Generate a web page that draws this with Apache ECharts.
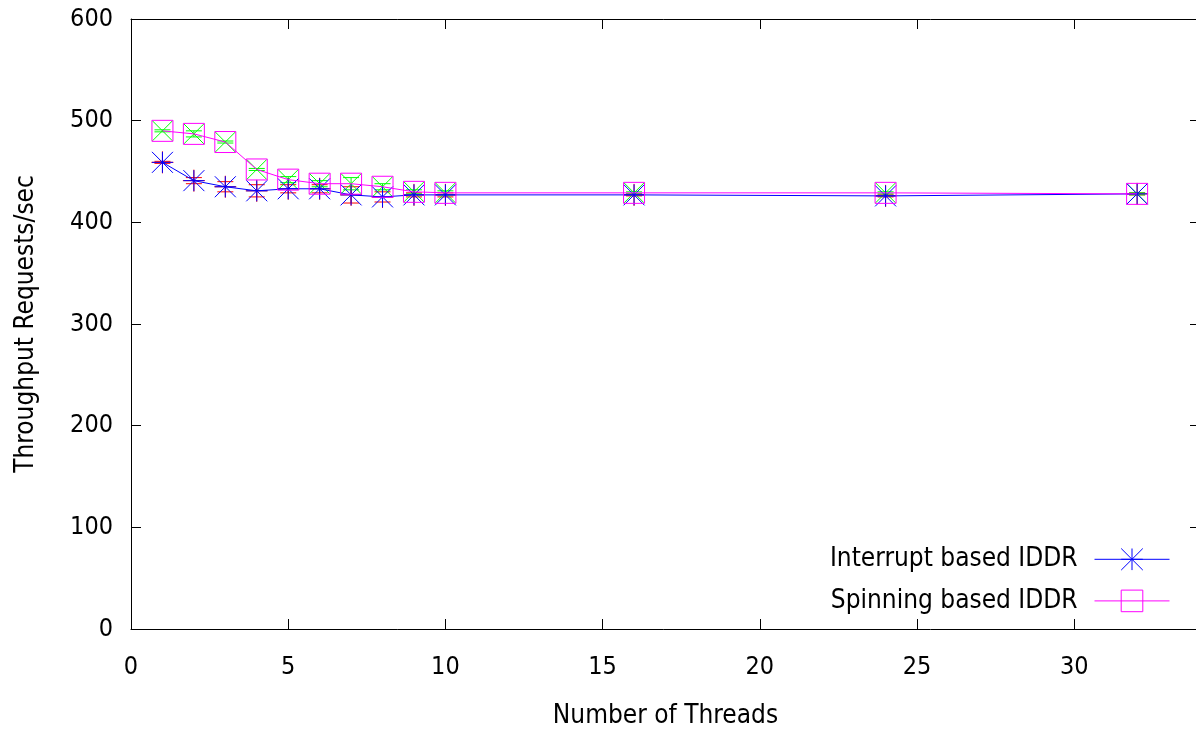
<!DOCTYPE html>
<html>
<head>
<meta charset="utf-8">
<script src="https://cdn.jsdelivr.net/npm/echarts@6/dist/echarts.min.js"></script>
<style>html,body{margin:0;padding:0;background:#fff}#chart{width:1196px;height:731px}</style>
</head>
<body>
<div id="chart"></div>
<script>
const threads = [1, 2, 3, 4, 5, 6, 7, 8, 9, 10, 16, 24, 32];
const interruptVals = [459, 441, 435, 431, 433, 433, 427, 425, 427, 427, 427, 426, 428];
const interruptErr  = [1, 3, 5, 6, 4, 4, 8, 5, 2, 2, 1, 1, 1];
const spinningVals  = [490, 487, 479, 452, 442, 438, 438, 435, 430, 429, 429, 429, 428];
const spinningErr   = [1, 3, 1, 1, 3, 3, 6, 3, 2, 2, 1, 1, 1];
const seriesNames = ['Interrupt based IDDR', 'Spinning based IDDR'];
const xTitle = 'Number of Threads';
const yTitle = 'Throughput Requests/sec';

const FONT = '"DejaVu Sans Condensed", "DejaVu Sans", sans-serif';
const chart = echarts.init(document.getElementById('chart'), null, {renderer: 'canvas'});

function errData(vals, errs) { return threads.map((t, i) => [t, vals[i], errs[i]]); }
function lineData(vals) { return threads.map((t, i) => [t, vals[i]]); }

function errRender(color, markType) {
  return function (params, api) {
    const x = api.value(0), y = api.value(1), e = api.value(2);
    const c = api.coord([x, y]);
    const top = api.coord([x, y + e]);
    const bot = api.coord([x, y - e]);
    const cap = 8, m = markType === 'plus' ? 11 : 10;
    const st = {stroke: color, lineWidth: 1, fill: null};
    const children = [
      {type: 'line', shape: {x1: c[0], y1: top[1], x2: c[0], y2: bot[1]}, style: st},
      {type: 'line', shape: {x1: c[0] - cap, y1: top[1], x2: c[0] + cap, y2: top[1]}, style: st},
      {type: 'line', shape: {x1: c[0] - cap, y1: bot[1], x2: c[0] + cap, y2: bot[1]}, style: st}
    ];
    if (markType === 'plus') {
      children.push({type: 'line', shape: {x1: c[0] - m, y1: c[1], x2: c[0] + m, y2: c[1]}, style: st});
      children.push({type: 'line', shape: {x1: c[0], y1: c[1] - m, x2: c[0], y2: c[1] + m}, style: st});
    } else {
      children.push({type: 'line', shape: {x1: c[0] - m, y1: c[1] - m, x2: c[0] + m, y2: c[1] + m}, style: st});
      children.push({type: 'line', shape: {x1: c[0] - m, y1: c[1] + m, x2: c[0] + m, y2: c[1] - m}, style: st});
    }
    return {type: 'group', children: children};
  };
}

const axisLabelStyle = {color: '#000', fontFamily: FONT, fontSize: 25};
const nameStyle = {color: '#000', fontFamily: FONT, fontSize: 26};
const starPath = 'path://M0,10L20,10M10,0L10,20M0,0L20,20M20,0L0,20';

const option = {
  animation: false,
  backgroundColor: '#fff',
  grid: {left: 131, right: -4, top: 19, bottom: 102, containLabel: false, outerBoundsMode: 'none'},
  xAxis: [{
    type: 'value', min: 0, max: 34, interval: 5,
    name: xTitle, nameLocation: 'middle', nameGap: 74,
    nameTextStyle: nameStyle,
    axisLine: {show: true, onZero: false, lineStyle: {color: '#000', width: 1}},
    axisTick: {show: true, inside: true, length: 10, lineStyle: {color: '#000'}},
    axisLabel: Object.assign({margin: 26, showMaxLabel: false}, axisLabelStyle),
    splitLine: {show: false}
  }, {
    type: 'value', position: 'top', min: 0, max: 34, interval: 5,
    axisLine: {show: true, onZero: false, lineStyle: {color: '#000', width: 1}},
    axisTick: {show: true, inside: true, length: 10, lineStyle: {color: '#000'}},
    axisLabel: {show: false}, splitLine: {show: false}
  }],
  yAxis: [{
    type: 'value', min: 0, max: 600, interval: 100,
    name: yTitle, nameLocation: 'middle', nameGap: 92, nameRotate: 90,
    nameTextStyle: nameStyle,
    axisLine: {show: true, onZero: false, lineStyle: {color: '#000', width: 1}},
    axisTick: {show: true, inside: true, length: 10, lineStyle: {color: '#000'}},
    axisLabel: Object.assign({margin: 18}, axisLabelStyle),
    splitLine: {show: false}
  }, {
    type: 'value', position: 'right', min: 0, max: 600, interval: 100,
    axisLine: {show: true, onZero: false, lineStyle: {color: '#000', width: 1}},
    axisTick: {show: true, inside: true, length: 10, lineStyle: {color: '#000'}},
    axisLabel: {show: false}, splitLine: {show: false}
  }],
  legend: {
    data: seriesNames,
    orient: 'vertical', right: 21, top: 541, align: 'right',
    itemWidth: 75, itemHeight: 27, itemGap: 15,
    textStyle: {color: '#000', fontFamily: FONT, fontSize: 26, padding: [0, 12, 0, 0]},
    itemStyle: {borderWidth: 1},
    lineStyle: {width: 1},
    selectedMode: false
  },
  series: [
    {
      type: 'custom', name: 'interrupt-err', z: 1, renderItem: errRender('#ff0000', 'plus'),
      data: errData(interruptVals, interruptErr), encode: {x: 0, y: 1}, silent: true
    },
    {
      type: 'custom', name: 'spinning-err', z: 2, renderItem: errRender('#00ff00', 'cross'),
      data: errData(spinningVals, spinningErr), encode: {x: 0, y: 1}, silent: true
    },
    {
      type: 'line', name: seriesNames[0], z: 3,
      data: lineData(interruptVals),
      symbol: starPath, symbolSize: 21, showAllSymbol: true,
      lineStyle: {color: '#0000ff', width: 1},
      itemStyle: {color: 'none', borderColor: '#0000ff', borderWidth: 1}
    },
    {
      type: 'line', name: seriesNames[1], z: 4,
      data: lineData(spinningVals),
      symbol: 'rect', symbolSize: 21, showAllSymbol: true,
      lineStyle: {color: '#ff00ff', width: 1},
      itemStyle: {color: 'none', borderColor: '#ff00ff', borderWidth: 1}
    }
  ]
};
chart.setOption(option);
</script>
</body>
</html>
